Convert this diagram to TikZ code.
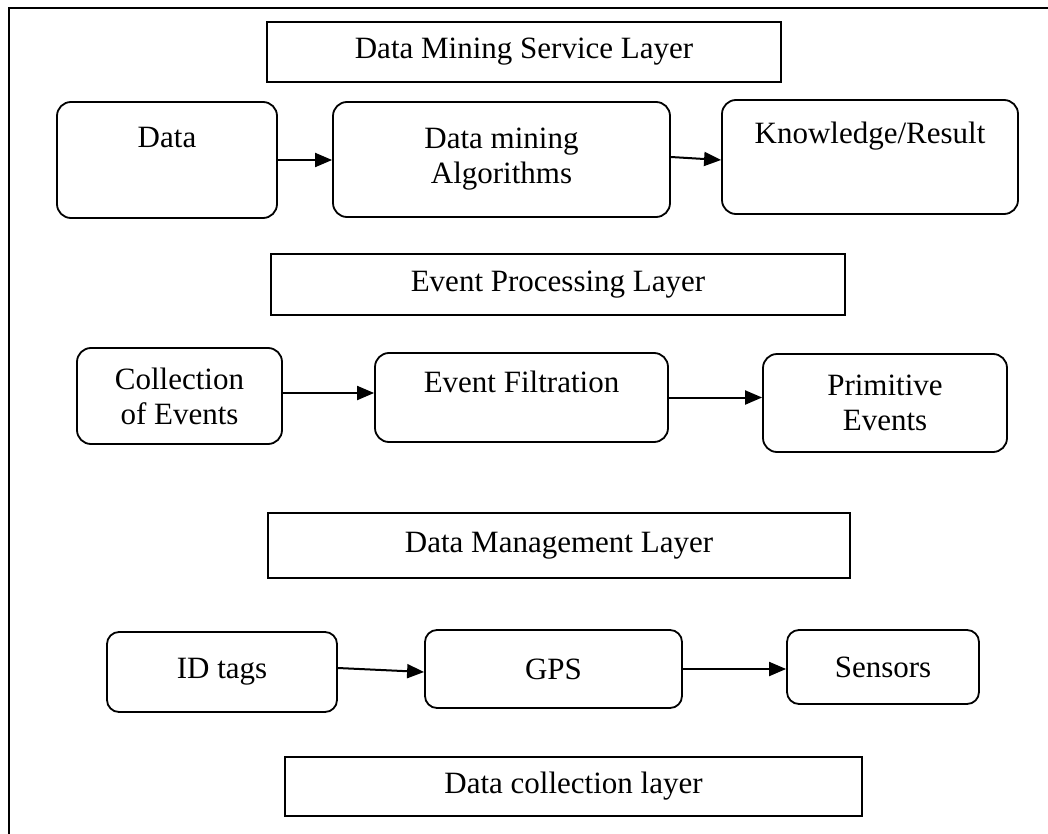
\documentclass[tikz,border=0pt]{standalone}
\usepackage{fontspec}
\setmainfont{Liberation Serif}
\usetikzlibrary{positioning, arrows.meta}

\begin{document}
\begin{tikzpicture}[
      x=1pt, y=-1pt,
      every node/.style={align=center, inner sep=0pt, font=\fontsize{31}{35}\selectfont},
      layer/.style={draw, rectangle, line width=1.8pt},
      stage/.style={draw, rectangle, rounded corners=14pt, line width=1.8pt},
      flow/.style={-{Triangle[length=17pt, width=14pt]}, line width=2pt}
    ]
    \useasboundingbox (0,0) rectangle (1048,834);
    \draw[line width=1.8pt] (9,834) -- (9,8) -- (1048,8);

    % data mining service layer
    \node[layer, minimum width=514pt, minimum height=60pt] (mining) at (524,52) {Data Mining Service Layer};
    \node[stage, minimum width=220pt, minimum height=116pt] (data) at (167,160) {};
    \node[anchor=base] (data-txt) at (167,148) {Data};
    \node[stage, minimum width=337pt, minimum height=115pt] (algo) at (501.5,159.5) {Data mining\\Algorithms};
    \node[stage, minimum width=296pt, minimum height=114pt] (result) at (870,157) {};
    \node[anchor=base] (result-txt) at (870,144) {Knowledge/Result};

    % event processing layer
    \node[layer, minimum width=574pt, minimum height=61pt] (processing) at (558,284.5) {Event Processing Layer};
    \node[stage, minimum width=205pt, minimum height=96pt] (events) at (179.5,396) {Collection\\of Events};
    \node[stage, minimum width=293pt, minimum height=89pt] (filter) at (521.5,397.5) {};
    \node[anchor=base] (filter-txt) at (521.5,392) {Event Filtration};
    \node[stage, minimum width=244pt, minimum height=98pt] (primitive) at (885,403) {Primitive\\Events};

    % data management layer
    \node[layer, minimum width=582pt, minimum height=65pt] (management) at (559,545.5) {Data Management Layer};
    \node[stage, rounded corners=12pt, minimum width=230pt, minimum height=80pt] (tags) at (222,672) {ID tags};
    \node[stage, rounded corners=12pt, minimum width=257pt, minimum height=78pt] (gps) at (553.5,669) {GPS};
    \node[stage, rounded corners=12pt, minimum width=192pt, minimum height=74pt] (sensors) at (883,667) {Sensors};

    % data collection layer
    \node[layer, minimum width=577pt, minimum height=59pt] (collection) at (573.5,786.5) {Data collection layer};

    \draw[flow] (data.east) -- (data.east -| algo.west);
    \draw[flow] ([yshift=2.5pt]algo.east) -- ([yshift=-3pt]result.west);
    \draw[flow] ([yshift=3pt]events.east) -- ([yshift=3pt]events.east -| filter.west);
    \draw[flow] (filter.east) -- (filter.east -| primitive.west);
    \draw[flow] ([yshift=4pt]tags.east) -- ([yshift=-3pt]gps.west);
    \draw[flow] (gps.east) -- (gps.east -| sensors.west);
  \end{tikzpicture}
\end{document}
